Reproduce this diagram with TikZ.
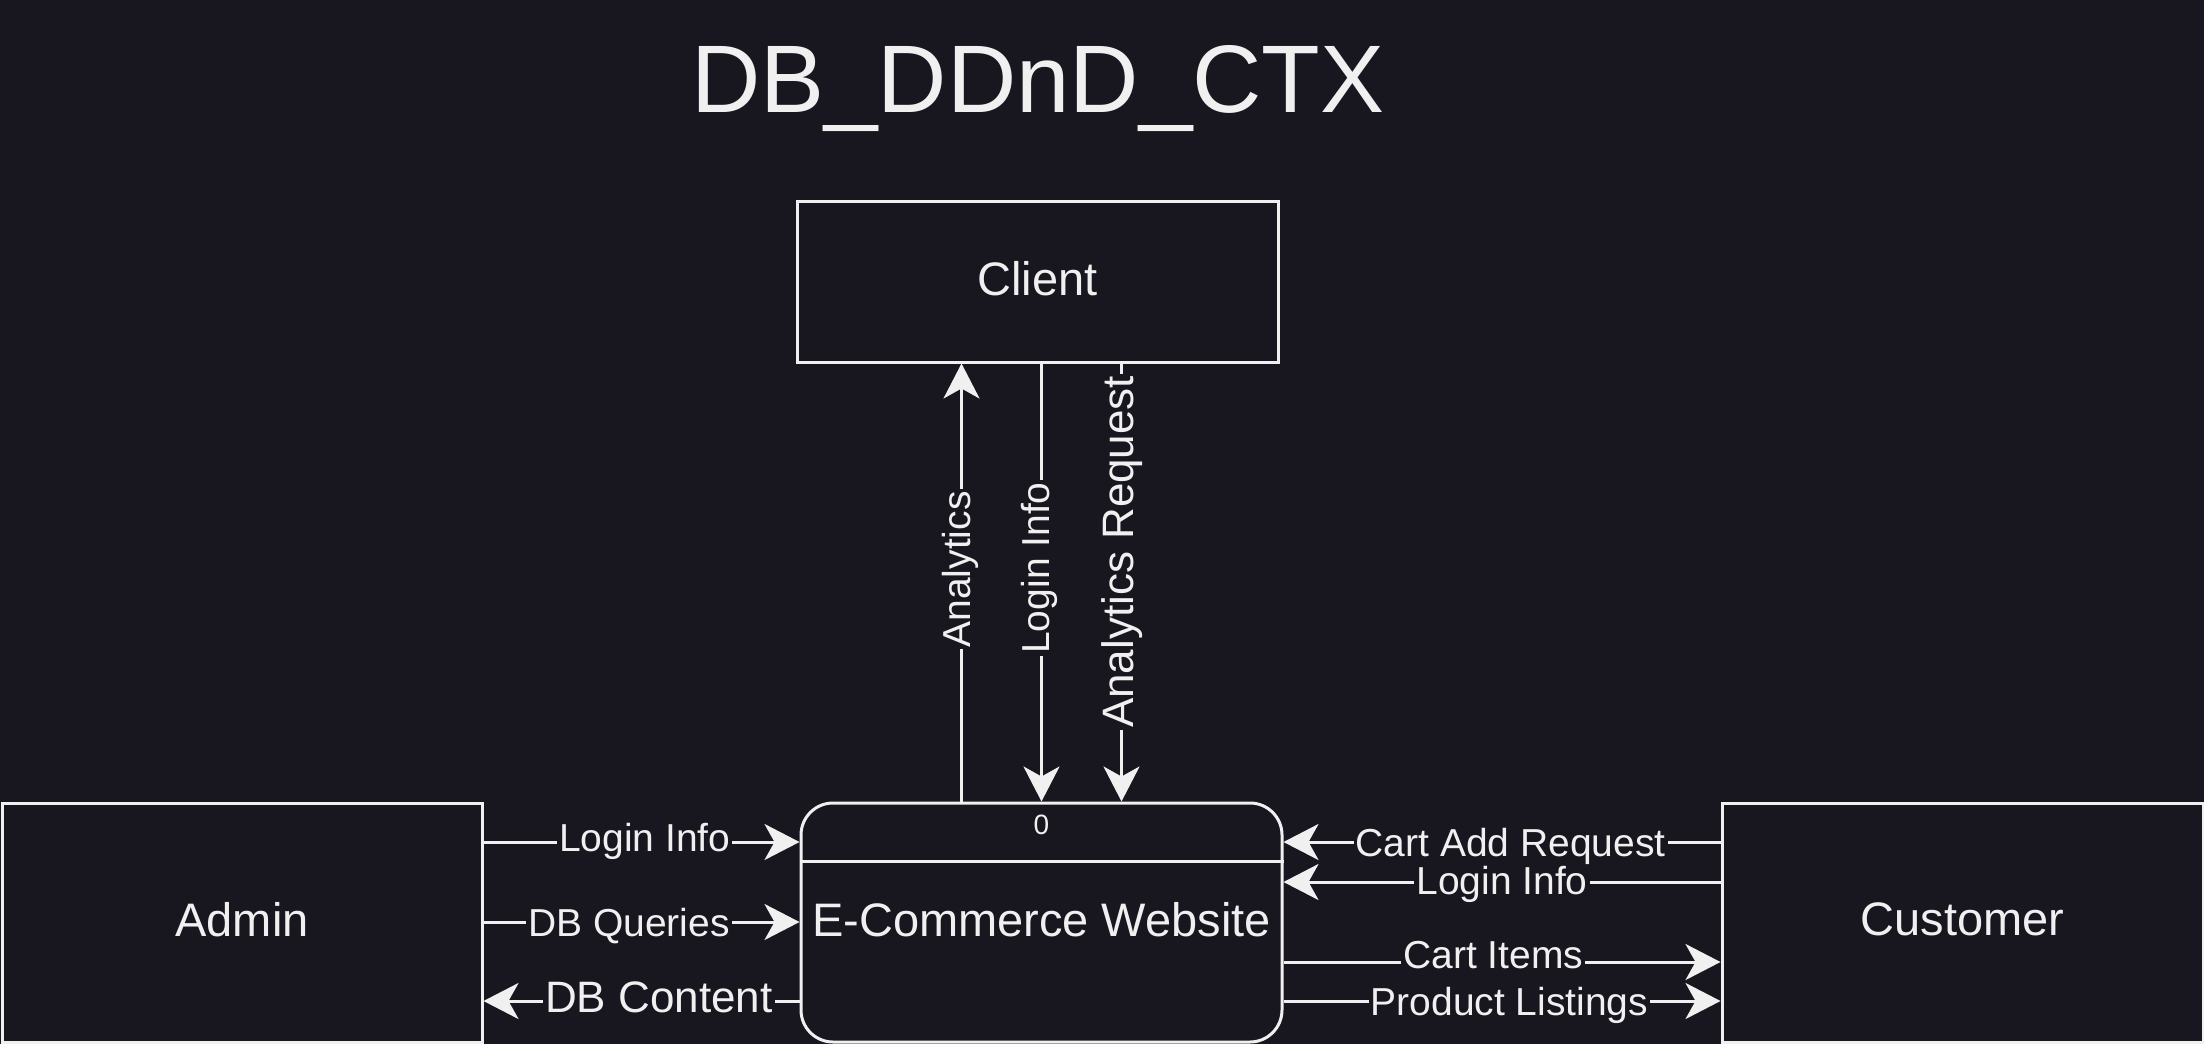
\documentclass[tikz,border=0pt]{standalone}
\usepackage{fontspec}
\setmainfont{Liberation Sans}
\usetikzlibrary{arrows.meta}
\definecolor{bg}{HTML}{18161F}
\definecolor{fg}{HTML}{F0F0F0}
\tikzset{
    entity/.style={draw=fg, fill=bg, line width=1.5pt, text=fg, minimum width=240.5pt, text depth=3.5pt, font=\fontsize{23.5}{28}\selectfont}, % 外部实体
    flow/.style={draw=fg, line width=1.5pt, -{Stealth[length=17.5pt, width=18pt, inset=5pt]}}, % 数据流
    lbl/.style={fill=bg, text=fg, inner sep=1pt, font=\fontsize{19.5}{23}\selectfont, text height=14pt, text depth=0pt}, % 数据流标签
    biglbl/.style={lbl, font=\fontsize{22}{26}\selectfont, text height=15.75pt}
}
\begin{document}
\begin{tikzpicture}[x=0.5pt, y=-0.5pt]
            \useasboundingbox[fill=bg] (0,0) rectangle (2204,1044);

            \node[text=fg, font=\fontsize{48}{56}\selectfont, anchor=base] (title) at (1038,112) {DB\_DDnD\_CTX};

            \node[entity, minimum height=80.5pt] (client) at (1037.5,281.5) {Client};
            \node[entity, minimum height=119.5pt, minimum width=240pt] (admin) at (242,922.5) {Admin};
            \node[entity, minimum height=119.5pt] (customer) at (1962.5,922.5) {Customer};
            \node[entity, minimum height=119.5pt, rounded corners=16pt, inner sep=0pt] (proc) at (1041.5,922.5) {E-Commerce Website};
            \node[text=fg, font=\fontsize{14}{17}\selectfont] (procid) at (1041.5,825) {0};
            \draw[draw=fg, line width=1.5pt] (proc.west |- 0,861) -- (proc.east |- 0,861);

            \draw[flow] (proc.north -| 961.5,0) -- (client.south -| 961.5,0) node[lbl, xshift=-2.75pt, rotate=90, pos=0.53] (la) {Analytics};
            \draw[flow] (client.south -| 1041.5,0) -- (proc.north -| 1041.5,0) node[lbl, xshift=-3.25pt, rotate=90, pos=0.467] (lb) {Login Info};
            \draw[flow] (client.south -| 1121.5,0) -- (proc.north -| 1121.5,0) node[biglbl, xshift=-1.75pt, rotate=90, pos=0.43] (lc) {Analytics Request};

            \draw[flow] (admin.east |- 0,842) -- (proc.west |- 0,842) node[lbl, yshift=2.25pt, pos=0.51] (ld) {Login Info};
            \draw[flow] (admin.east |- 0,922) -- (proc.west |- 0,922) node[lbl, pos=0.46] (le) {DB Queries};
            \draw[flow] (proc.west |- 0,1001) -- (admin.east |- 0,1001) node[biglbl, yshift=2pt, pos=0.445] (lf) {DB Content};

            \draw[flow] (customer.west |- 0,842) -- (proc.east |- 0,842) node[lbl, pos=0.48] (lg) {Cart Add Request};
            \draw[flow] (customer.west |- 0,882) -- (proc.east |- 0,882) node[lbl, yshift=0.75pt, pos=0.5] (lh) {Login Info};
            \draw[flow] (proc.east |- 0,962) -- (customer.west |- 0,962) node[lbl, yshift=4pt, pos=0.48] (li) {Cart Items};
            \draw[flow] (proc.east |- 0,1001) -- (customer.west |- 0,1001) node[lbl, pos=0.517] (lj) {Product Listings};
        \end{tikzpicture}
\end{document}
